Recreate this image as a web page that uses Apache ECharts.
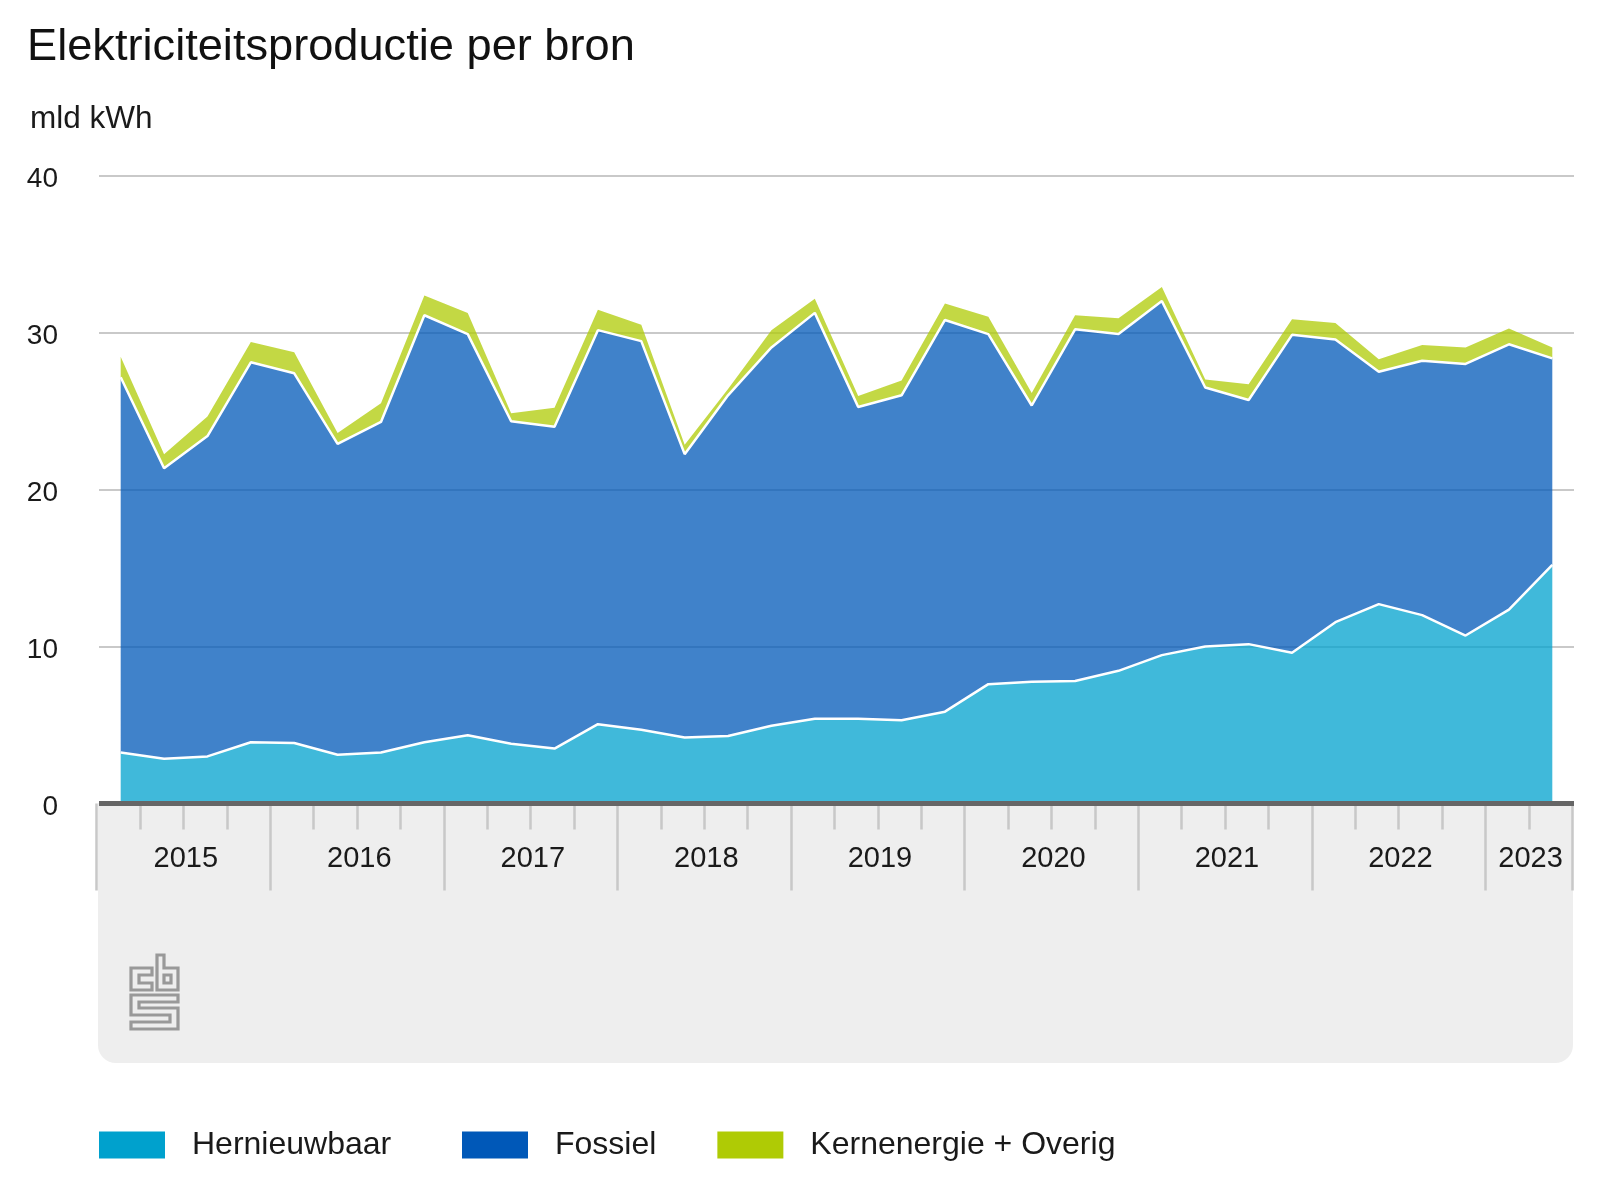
<!DOCTYPE html>
<html lang="nl">
<head>
    <meta charset="UTF-8">
    <title>Elektriciteitsproductie per bron</title>
    <script src="https://cdn.jsdelivr.net/npm/echarts@6/dist/echarts.min.js"></script>
    <style>
        html, body { margin: 0; padding: 0; background: #fff; }
        #main { width: 1600px; height: 1200px; }
    </style>
</head>
<body>
<div id="main"></div>
<script type="text/javascript">
    // kwartalen 2015 Q1 t/m 2023 Q2
    var categories = [
        "2015 Q1", "2015 Q2", "2015 Q3", "2015 Q4",
        "2016 Q1", "2016 Q2", "2016 Q3", "2016 Q4",
        "2017 Q1", "2017 Q2", "2017 Q3", "2017 Q4",
        "2018 Q1", "2018 Q2", "2018 Q3", "2018 Q4",
        "2019 Q1", "2019 Q2", "2019 Q3", "2019 Q4",
        "2020 Q1", "2020 Q2", "2020 Q3", "2020 Q4",
        "2021 Q1", "2021 Q2", "2021 Q3", "2021 Q4",
        "2022 Q1", "2022 Q2", "2022 Q3", "2022 Q4",
        "2023 Q1", "2023 Q2"
    ];
    var hernieuwbaar = [
        3.25, 2.85, 3.0, 3.9, 3.85, 3.1, 3.25, 3.9,
        4.35, 3.8, 3.5, 5.05, 4.7, 4.2, 4.3, 4.95,
        5.4, 5.4, 5.3, 5.85, 7.6, 7.75, 7.8, 8.45,
        9.45, 10.0, 10.15, 9.6, 11.55, 12.7, 12.0, 10.7,
        12.35, 15.2
    ];
    var fossiel = [
        23.9, 18.5, 20.4, 24.2, 23.55, 19.8, 21.05, 27.2,
        25.55, 20.55, 20.5, 25.1, 24.75, 18.05, 21.7, 24.1,
        25.85, 19.85, 20.7, 24.95, 22.3, 17.6, 22.4, 21.45,
        22.55, 16.5, 15.55, 20.25, 18.0, 14.8, 16.2, 17.3,
        16.9, 13.15
    ];
    var kernOverig = [
        1.3, 0.9, 1.25, 1.3, 1.35, 0.7, 1.2, 1.25,
        1.35, 0.5, 1.2, 1.3, 1.05, 0.6, 0.4, 1.1,
        0.9, 0.7, 0.95, 1.05, 1.1, 0.8, 0.9, 1.0,
        0.9, 0.5, 1.0, 1.0, 1.05, 0.8, 1.0, 1.05,
        1.0, 0.7
    ];
    var yTicks = [0, 10, 20, 30, 40];

    // jaargrenzen en jaarmidden afleiden uit de kwartalen
    var yearEdges = [], yearCenters = [], minorEdges = [], yearNames = {};
    categories.forEach(function (c, i) {
        if (c.indexOf("Q1") > 0) { yearEdges.push(i); } else { minorEdges.push(i); }
    });
    yearEdges.push(categories.length);
    for (var i = 0; i < yearEdges.length - 1; i++) {
        var mid = (yearEdges[i] + yearEdges[i + 1]) / 2;
        yearCenters.push(mid);
        yearNames[mid] = categories[yearEdges[i]].slice(0, 4);
    }

    var font = '"Liberation Sans", Arial, sans-serif';
    var tickColor = "#c8c8c8";
    var logoColor = "#999";

    function logoPart(points) {
        return {
            type: "polygon", z: -5,
            shape: { points: points },
            style: { fill: null, stroke: logoColor, lineWidth: 3.2 }
        };
    }

    function stackedSeries(name, values, color, z, lineWidth) {
        return {
            name: name, type: "line", stack: "totaal",
            data: values, z: z,
            symbol: "none", showSymbol: false,
            itemStyle: { color: color },
            lineStyle: { color: "#fff", width: lineWidth },
            areaStyle: { color: color, opacity: 0.75 }
        };
    }

    function tickAxis(length, values) {
        return {
            type: "value", gridIndex: 1, min: 0, max: categories.length, position: "bottom",
            splitLine: { show: false }, axisLine: { show: false }, axisLabel: { show: false },
            axisTick: { length: length, customValues: values, lineStyle: { color: tickColor, width: 2.5 } }
        };
    }

    function legendPart(left, names) {
        return {
            left: left, top: 1124,
            itemWidth: 66, itemHeight: 27, itemGap: 61,
            icon: "rect",
            itemStyle: { borderWidth: 0 },
            textStyle: { fontFamily: font, fontSize: 32, color: "#1a1a1a", padding: [0, 0, 0, 22] },
            data: names
        };
    }

    var myChart = echarts.init(document.getElementById("main"), null, { renderer: "canvas" });
    var option = {
        animation: false,
        backgroundColor: "#fff",
        textStyle: { fontFamily: font },
        title: [
            { text: "Elektriciteitsproductie per bron", left: 22, top: 20,
              textStyle: { fontFamily: font, fontSize: 45.2, fontWeight: "normal", color: "#111" } },
            { text: "mld kWh", left: 25, top: 98,
              textStyle: { fontFamily: font, fontSize: 31.5, fontWeight: "normal", color: "#1a1a1a" } }
        ],
        grid: [
            { left: 99, width: 1475, top: 175.5, height: 628 },
            // tweede grid alleen voor de tikjes
            { left: 96.7, width: 1475.5, top: 175.5, height: 628 }
        ],
        legend: [
            legendPart(94, ["Hernieuwbaar"]),
            legendPart(457, ["Fossiel", "Kernenergie + Overig"])
        ],
        xAxis: [
            {
                type: "category", data: categories, boundaryGap: true,
                z: 5,
                axisLine: { lineStyle: { color: "#666", width: 5, cap: "butt" } },
                axisTick: { show: false }, axisLabel: { show: false }
            },
            {
                type: "value", min: 0, max: categories.length, position: "bottom",
                splitLine: { show: false }, axisLine: { show: false }, axisTick: { show: false },
                axisLabel: {
                    customValues: yearCenters, margin: 41,
                    fontFamily: font, fontSize: 29, color: "#1a1a1a",
                    formatter: function (v) { return yearNames[v]; }
                }
            },
            tickAxis(87, yearEdges),
            tickAxis(26, minorEdges)
        ],
        yAxis: [
            {
                type: "value", min: yTicks[0], max: yTicks[yTicks.length - 1], interval: 10,
                axisLine: { show: false }, axisTick: { show: false },
                splitLine: { lineStyle: { color: "#c9c9c9", width: 2 } },
                axisLabel: { margin: 41, fontFamily: font, fontSize: 28, color: "#1a1a1a", verticalAlign: "top", lineHeight: 8 }
            },
            { type: "value", gridIndex: 1, show: false, min: 0, max: 40 }
        ],
        series: [
            stackedSeries("Hernieuwbaar", hernieuwbaar, "#00a1cd", 4, 2.5),
            stackedSeries("Fossiel", fossiel, "#0058b8", 3, 2.5),
            stackedSeries("Kernenergie + Overig", kernOverig, "#afcb05", 2, 0)
        ],
        graphic: [
            { type: "rect", z: -10,
              shape: { x: 98, y: 803, width: 1475, height: 260, r: [0, 0, 18, 18] },
              style: { fill: "#eeeeee" } },
            // cbs logo
            logoPart([[152, 968], [131, 968], [131, 990], [152, 990], [152, 983], [139, 983], [139, 975], [152, 975]]),
            logoPart([[157, 955], [164, 955], [164, 968], [178, 968], [178, 990], [157, 990]]),
            logoPart([[164, 975], [171, 975], [171, 983], [164, 983]]),
            logoPart([[131, 995], [178, 995], [178, 1002], [139, 1002], [139, 1008], [178, 1008], [178, 1029], [131, 1029], [131, 1022], [170, 1022], [170, 1015], [131, 1015]])
        ]
    };
    myChart.setOption(option);
</script>
</body>
</html>
